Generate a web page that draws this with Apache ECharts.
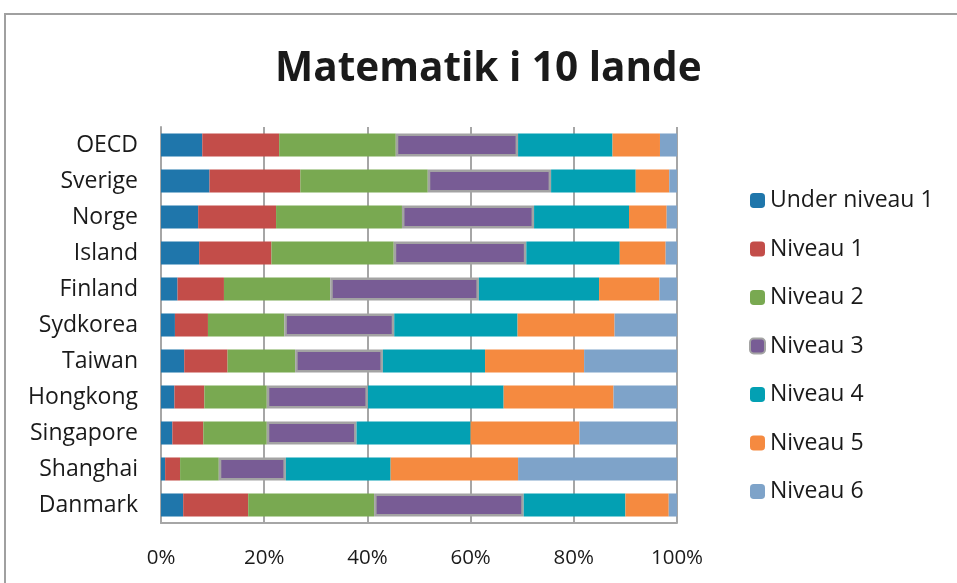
<!DOCTYPE html>
<html lang="da">
<head>
    <meta charset="UTF-8">
    <title>Matematik i 10 lande</title>
    <script src="https://cdn.jsdelivr.net/npm/echarts@6/dist/echarts.min.js"></script>
    <style>
        html, body { margin: 0; padding: 0; background: #fff; }
        #chart { width: 957px; height: 583px; }
    </style>
</head>
<body>
    <div id="chart"></div>
    <script>
        // lande, oppefra og ned
        var lande = ['OECD', 'Sverige', 'Norge', 'Island', 'Finland', 'Sydkorea',
            'Taiwan', 'Hongkong', 'Singapore', 'Shanghai', 'Danmark'];

        // andel elever (%) pr. niveau, samme rækkefølge som lande
        var underNiveau1 = [8.0, 9.4, 7.2, 7.4, 3.2, 2.7, 4.5, 2.6, 2.2, 0.8, 4.3];
        var niveau1 = [14.9, 17.6, 15.1, 14.0, 9.0, 6.4, 8.4, 5.8, 6.0, 2.9, 12.6];
        var niveau2 = [22.6, 24.7, 24.4, 23.7, 20.6, 14.8, 13.1, 12.1, 12.3, 7.5, 24.4];
        var niveau3 = [23.7, 23.9, 25.6, 25.7, 28.8, 21.3, 17.0, 19.6, 17.4, 13.0, 29.0];
        var niveau4 = [18.3, 16.4, 18.4, 18.1, 23.3, 23.9, 19.8, 26.3, 22.1, 20.3, 19.7];
        var niveau5 = [9.2, 6.5, 7.3, 8.9, 11.7, 18.8, 19.2, 21.3, 21.1, 24.7, 8.4];
        var niveau6 = [3.3, 1.5, 2.0, 2.2, 3.4, 12.1, 18.0, 12.3, 18.9, 30.8, 1.6];

        var procentTicks = [0, 20, 40, 60, 80, 100];

        var serier = [
            { name: 'Under niveau 1', data: underNiveau1, color: '#1f76ab' },
            { name: 'Niveau 1', data: niveau1, color: '#c34d49' },
            { name: 'Niveau 2', data: niveau2, color: '#79a951' },
            { name: 'Niveau 3', data: niveau3, color: '#785c95' },
            { name: 'Niveau 4', data: niveau4, color: '#03a0b3' },
            { name: 'Niveau 5', data: niveau5, color: '#f58a40' },
            { name: 'Niveau 6', data: niveau6, color: '#7ea3c9' }
        ];

        var font = '"Open Sans", "Noto Sans", sans-serif';
        var chart = echarts.init(document.getElementById('chart'));

        var option = {
            animation: false,
            backgroundColor: '#fff',
            title: {
                text: 'Matematik i 10 lande',
                left: 270,
                top: 44,
                textStyle: { fontFamily: font, fontSize: 40.5, fontWeight: 'bold', color: '#1a1a1a' }
            },
            legend: {
                orient: 'vertical',
                left: 749,
                top: 189,
                padding: 0,
                itemWidth: 15,
                itemHeight: 15,
                itemGap: 25.5,
                itemTextGap: 8,
                textStyle: { fontFamily: font, fontSize: 23, lineHeight: 22, color: '#1a1a1a' },
                data: serier.map(function (s) { return s.name; })
            },
            graphic: [{
                type: 'rect',
                shape: { x: 5, y: 14, width: 1000, height: 1000 },
                style: { fill: 'none', stroke: '#a0a0a0', lineWidth: 2 },
                silent: true
            }],
            grid: { left: 161, right: 280, top: 127, bottom: 60 },
            xAxis: {
                type: 'value',
                min: procentTicks[0],
                max: procentTicks[procentTicks.length - 1],
                interval: 20,
                axisLine: { show: true, lineStyle: { color: '#a6a6a6', width: 2 } },
                axisTick: { show: false },
                splitLine: { show: true, lineStyle: { color: '#a6a6a6', width: 2 } },
                axisLabel: {
                    formatter: '{value}%',
                    margin: 25,
                    fontFamily: font, fontSize: 20.5, color: '#1a1a1a'
                }
            },
            yAxis: {
                type: 'category',
                inverse: true,
                data: lande,
                axisLine: { show: true, lineStyle: { color: '#a6a6a6', width: 2 } },
                axisTick: { show: false },
                axisLabel: { margin: 23, fontFamily: font, fontSize: 23, color: '#1a1a1a' }
            },
            series: serier.map(function (s) {
                var style = { color: s.color };
                if (s.name === 'Niveau 3') {
                    style.borderColor = '#a3a3a3';
                    style.borderWidth = 2.5;
                }
                return {
                    name: s.name,
                    type: 'bar',
                    stack: 'total',
                    barCategoryGap: '36%',
                    data: s.data,
                    itemStyle: style
                };
            })
        };

        chart.setOption(option);
    </script>
</body>
</html>
